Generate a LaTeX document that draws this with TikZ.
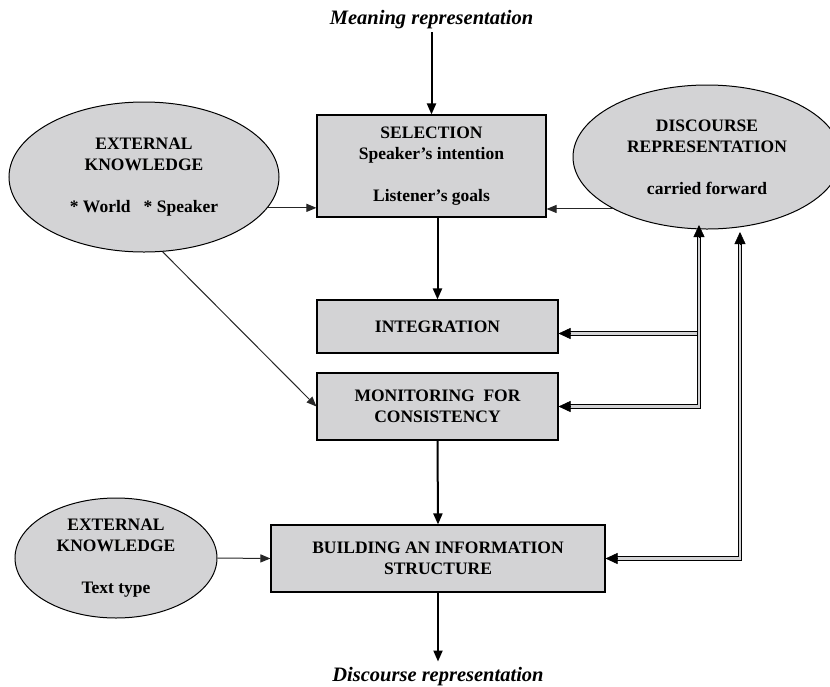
\documentclass[tikz,border=0pt]{standalone}
\usepackage{fontspec}
\setmainfont{Liberation Serif}
\usetikzlibrary{arrows.meta,shapes.geometric,calc}
\definecolor{boxgray}{RGB}{211,211,213}
\begin{document}
\begin{tikzpicture}[x=1pt,y=-1pt,
  every node/.style={font=\fontsize{17.5}{21}\selectfont\bfseries, align=center, inner sep=0pt},
  procbox/.style={draw, line width=1.1pt, fill=boxgray, rectangle},
  blob/.style={draw, line width=1pt, fill=boxgray, ellipse},
  caption/.style={font=\fontsize{20.5}{24}\selectfont\bfseries\itshape},
  varr/.style={line width=2pt, -{Triangle[length=11pt,width=9pt]}},
  harr/.style={line width=1pt, draw=black!85, -{Triangle[length=10pt,width=8pt]}},
  dbl/.style={line width=1.1pt, double=boxgray, double distance=2.4pt},
  dtip/.style={line width=0.5pt, -{Triangle[length=12pt,width=11pt]}},
]
\useasboundingbox (0,0) rectangle (830,686);

% nodes
\node[caption] (mean) at (431.5,20) {Meaning representation};
\node[procbox, minimum width=229pt, minimum height=102pt] (sel) at (431.5,166)
  {SELECTION\\Speaker’s intention\\[21pt]Listener’s goals};
\node[procbox, minimum width=241pt, minimum height=53pt] (integ) at (437.5,326.5) {INTEGRATION};
\node[procbox, minimum width=241pt, minimum height=67pt] (mon) at (437.5,406.5)
  {MONITORING~~FOR\\CONSISTENCY};
\node[procbox, minimum width=334pt, minimum height=67pt] (build) at (438,558.5)
  {BUILDING AN INFORMATION\\STRUCTURE};
\node[blob, minimum width=270pt, minimum height=150pt] (ek1) at (144,177)
  {EXTERNAL\\KNOWLEDGE\\[21pt]* World~~~* Speaker};
\node[blob, minimum width=268pt, minimum height=144pt] (dr) at (707,157)
  {DISCOURSE\\REPRESENTATION\\[21pt]carried forward};
\node[blob, minimum width=202pt, minimum height=120pt] (ek2) at (116,558)
  {EXTERNAL\\KNOWLEDGE\\[21pt]Text type};
\node[caption] (disc) at (438,677) {Discourse representation};

% single arrows
\draw[varr, shorten <=3pt] (mean.south) -- (sel.north);
\draw[varr] (sel.south -| integ.north) -- (integ.north);
\draw[varr] (mon.south) -- (build.north);
\draw[varr, shorten >=6pt] (build.south) -- (disc.north);
\draw[harr] (ek1.-14) -- (ek1.-14 -| sel.west);
\draw[harr] (dr.209) -- (dr.209 -| sel.east);
\draw[harr] (ek1.-76) -- (mon.west);
\draw[harr] (ek2.east) -- (build.west);

% double connectors
\coordinate (aTop) at (699,225);
\coordinate (iy) at ([yshift=-7pt]integ.east);
\coordinate (bTop) at (740,232);
\draw[dbl] (aTop |- iy) -- ([xshift=11pt]iy);
\draw[dbl] ($(aTop)+(0,11)$) -- (aTop |- mon.east) -- ([xshift=11pt]mon.east);
\draw[dbl] ($(bTop)+(0,11)$) -- (bTop |- build.east) -- ([xshift=11pt]build.east);
\draw[dtip] ($(aTop)+(0,12)$) -- (aTop);
\draw[dtip] ($(bTop)+(0,12)$) -- (bTop);
\draw[dtip] ([xshift=12pt]iy) -- (iy);
\draw[dtip] ([xshift=12pt]mon.east) -- (mon.east);
\draw[dtip] ([xshift=12pt]build.east) -- (build.east);
\end{tikzpicture}
\end{document}
